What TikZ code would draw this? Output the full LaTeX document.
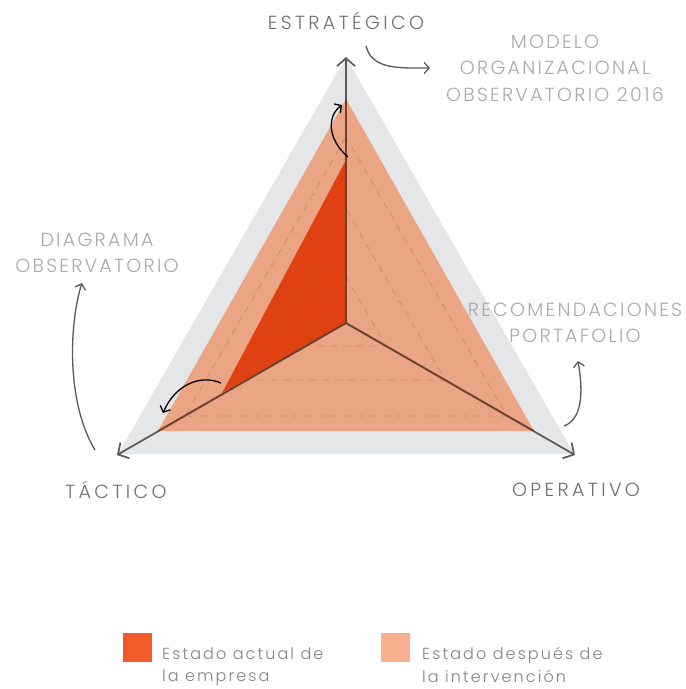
\documentclass[tikz,border=0pt]{standalone}
\usepackage{fontspec}
\setmainfont{Poppins Light}
\usetikzlibrary{arrows.meta}
\definecolor{grayfill}{HTML}{E5E6E8}
\definecolor{lightor}{HTML}{EBA584}
\definecolor{darkor}{HTML}{E04112}
\definecolor{legdark}{HTML}{F15A2B}
\definecolor{leglight}{HTML}{F8B090}
\definecolor{axisgray}{HTML}{58595B}
\definecolor{lblgray}{HTML}{6D6E71}
\definecolor{notegray}{HTML}{A7A9AC}
\definecolor{leggray}{HTML}{808285}
\definecolor{dashcol}{HTML}{A0583A}
\definecolor{axisbrown}{HTML}{7A3414}
\begin{document}
\begin{tikzpicture}[x=1pt,y=-1pt,
  axisline/.style={draw=axisgray,line width=1.7pt,-{Straight Barb[length=8pt,width=18pt]}},
  inneraxis/.style={draw=axisbrown,draw opacity=0.65,line width=1.8pt},
  gridline/.style={draw=dashcol,draw opacity=0.35,line width=0.8pt,dash pattern=on 7pt off 6pt},
  notearrow/.style={draw=axisgray,line width=1.3pt,-{Straight Barb[length=5pt,width=11pt]}},
  innerarrow/.style={draw=black,line width=1.3pt,-{Straight Barb[length=5pt,width=11pt]}},
  axislabel/.style={text=lblgray,font=\fontsize{19}{24}\selectfont\addfontfeatures{LetterSpace=18},inner sep=0pt},
  notelabel/.style={text=notegray,font=\fontsize{19}{26.5}\selectfont\addfontfeatures{LetterSpace=12},inner sep=0pt,align=center},
  legtext/.style={text=leggray,font=\fontsize{16}{22.5}\selectfont\addfontfeatures{LetterSpace=13},inner sep=0pt,align=left,anchor=north west},
  legbox/.style={minimum size=29pt,inner sep=0pt,anchor=north west}
]
\useasboundingbox (0,0) rectangle (686,689);
% centre and tips
\coordinate (C) at (346,323);
\coordinate (T) at (346,57);
\coordinate (L) at (117,455);
\coordinate (R) at (575,455);
% outer gray triangle
\fill[grayfill] (346,57) -- (118,454) -- (574,454) -- cycle;
% after-intervention triangle
\coordinate (LT) at (346,99);
\coordinate (LL) at (158,431);
\coordinate (LR) at (534,431);
\fill[lightor] (LT) -- (LL) -- (LR) -- cycle;
% current state
\coordinate (DT) at (346,160);
\coordinate (DL) at (222,393);
\fill[darkor] (C) -- (DT) -- (DL) -- cycle;
% dashed grid triangles
\draw[gridline] (346,137) -- (185,416) -- (507,416) -- cycle;
\draw[gridline] (346,209) -- (247,380) -- (445,380) -- cycle;
\draw[gridline] (346,277) -- (306,346) -- (386,346) -- cycle;
% axes
\draw[axisline] (C) -- (T);
\draw[axisline] (C) -- (L);
\draw[axisline] (C) -- (R);
\draw[inneraxis] (C) -- (LT);
\draw[inneraxis] (C) -- (LL);
\draw[inneraxis] (C) -- (LR);
% axis labels
\node[axislabel] (estr) at (346,21) {ESTRATÉGICO};
\node[axislabel] (tact) at (116,490) {TÁCTICO};
\node[axislabel] (oper) at (576,490) {OPERATIVO};
% notes
\node[notelabel] (modelo) at (555,68) {MODELO\\ORGANIZACIONAL\\OBSERVATORIO 2016};
\node[notelabel] (diag) at (97,253) {DIAGRAMA\\OBSERVATORIO};
\node[notelabel] (recom) at (575,323) {RECOMENDACIONES\\PORTAFOLIO};
% curved arrows
\coordinate (a1s) at (366,46);  \coordinate (a1e) at (430,68);
\coordinate (a2s) at (348,157); \coordinate (a2e) at (342,105);
\coordinate (a3s) at (221,383); \coordinate (a3e) at (163,413);
\coordinate (a4s) at (95,450);  \coordinate (a4e) at (82,283);
\coordinate (a5s) at (564,426); \coordinate (a5e) at (578,361);
\draw[notearrow] (a1s) .. controls (372,70) and (400,68) .. (a1e);
\draw[innerarrow] (a2s) .. controls (326,138) and (328,115) .. (a2e);
\draw[innerarrow] (a3s) .. controls (200,374) and (175,385) .. (a3e);
\draw[notearrow] (a4s) .. controls (65,400) and (70,320) .. (a4e);
\draw[notearrow] (a5s) .. controls (585,418) and (582,385) .. (a5e);
% legend
\node[legbox,fill=legdark] (ld) at (123,633) {};
\node[legbox,fill=leglight] (ll) at (381,633) {};
\node[legtext] (ldt) at (162,647) {Estado actual de\\la empresa};
\node[legtext] (llt) at (422,647) {Estado después de\\la intervención};
\end{tikzpicture}
\end{document}
